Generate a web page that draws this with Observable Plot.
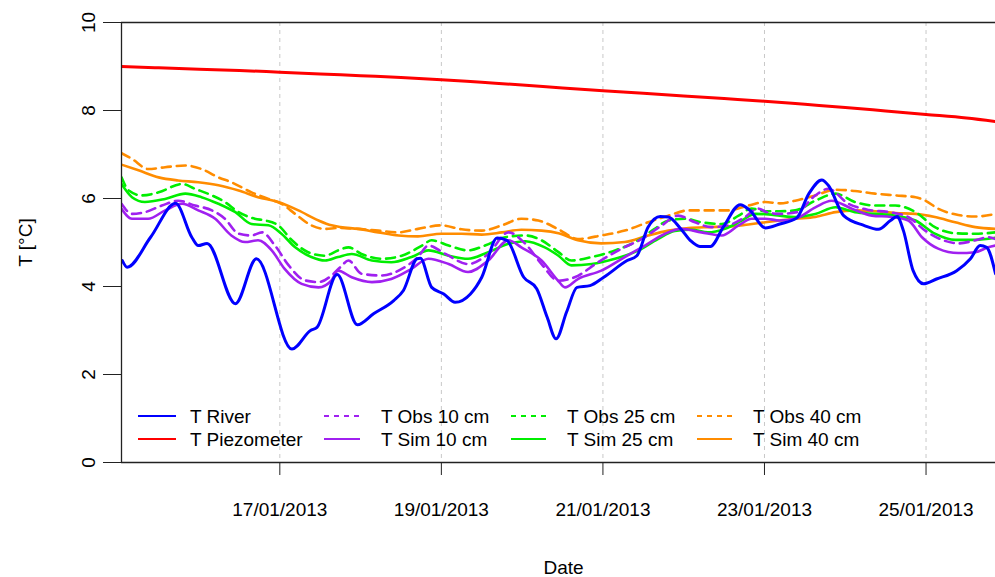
<!DOCTYPE html>
<html><head><meta charset="utf-8">
<script src="https://cdn.jsdelivr.net/npm/d3@7"></script>
<script src="https://cdn.jsdelivr.net/npm/@observablehq/plot@0.6"></script>
<style>body{margin:0;background:#fff;} #chart svg{display:block}</style>
</head><body><div id="chart"></div>
<script>
// x values: day of January 2013 (decimal), y values: temperature (°C)
const tRiver = [[15.05,4.59],[15.11,4.44],[15.40,5.12],[15.71,5.89],[15.91,5.12],[15.99,4.93],[16.10,4.98],[16.45,3.61],[16.71,4.63],[17.15,2.58],[17.38,3.00],[17.46,3.07],[17.71,4.27],[17.96,3.13],[18.16,3.38],[18.41,3.68],[18.53,3.91],[18.70,4.63],[18.74,4.64],[18.88,3.98],[19.03,3.83],[19.17,3.64],[19.36,3.83],[19.50,4.21],[19.69,5.10],[19.81,5.05],[20.02,4.21],[20.18,3.95],[20.31,3.30],[20.42,2.81],[20.55,3.42],[20.68,3.98],[20.84,4.02],[21.01,4.21],[21.30,4.59],[21.42,4.70],[21.56,5.35],[21.71,5.59],[21.81,5.58],[21.96,5.32],[22.08,5.05],[22.20,4.91],[22.33,4.91],[22.49,5.35],[22.70,5.86],[22.82,5.73],[23.01,5.33],[23.19,5.42],[23.40,5.56],[23.55,6.11],[23.71,6.42],[23.79,6.30],[23.98,5.61],[24.23,5.39],[24.41,5.30],[24.56,5.50],[24.64,5.59],[24.72,5.27],[24.84,4.36],[24.97,4.06],[25.13,4.17],[25.38,4.36],[25.55,4.63],[25.67,4.93],[25.75,4.89],[25.86,4.29]];
const tPiezo = [[15.04,9.00],[15.5,8.97],[16.0,8.94],[16.5,8.91],[17.0,8.87],[17.5,8.83],[18.0,8.79],[18.5,8.75],[19.0,8.70],[19.5,8.64],[20.0,8.58],[20.5,8.51],[21.0,8.45],[21.5,8.39],[22.0,8.33],[22.5,8.27],[23.0,8.21],[23.5,8.14],[24.0,8.07],[24.5,7.99],[25.0,7.91],[25.5,7.83],[25.86,7.75]];
const tObs10 = [[15.04,5.88],[15.17,5.65],[15.33,5.69],[15.54,5.84],[15.74,5.95],[15.95,5.84],[16.16,5.73],[16.32,5.54],[16.49,5.20],[16.65,5.16],[16.78,5.23],[16.94,4.93],[17.11,4.48],[17.31,4.14],[17.48,4.10],[17.64,4.25],[17.75,4.44],[17.85,4.59],[18.01,4.29],[18.26,4.25],[18.51,4.40],[18.71,4.67],[18.84,4.93],[19.05,4.74],[19.33,4.51],[19.58,4.74],[19.83,5.23],[20.04,4.97],[20.24,4.51],[20.45,4.13],[20.65,4.21],[20.94,4.55],[21.23,4.86],[21.48,5.08],[21.73,5.39],[21.93,5.61],[22.14,5.46],[22.34,5.35],[22.55,5.39],[22.76,5.58],[22.92,5.77],[23.03,5.69],[23.19,5.65],[23.40,5.69],[23.63,6.07],[23.79,6.22],[24.04,5.88],[24.29,5.74],[24.54,5.69],[24.78,5.58],[24.99,5.27],[25.20,5.06],[25.40,4.98],[25.61,5.05],[25.77,5.12],[25.86,5.08]];
const tSim10 = [[15.04,5.77],[15.17,5.54],[15.37,5.54],[15.58,5.73],[15.79,5.88],[15.99,5.73],[16.20,5.54],[16.40,5.16],[16.57,5.01],[16.73,5.05],[16.90,4.82],[17.06,4.40],[17.27,4.06],[17.48,3.98],[17.64,4.14],[17.72,4.36],[17.89,4.21],[18.14,4.10],[18.38,4.17],[18.63,4.40],[18.84,4.63],[19.09,4.51],[19.33,4.33],[19.58,4.59],[19.83,5.05],[19.99,4.89],[20.24,4.59],[20.45,4.12],[20.53,3.98],[20.69,4.17],[20.98,4.36],[21.27,4.67],[21.52,4.93],[21.77,5.20],[21.97,5.31],[22.22,5.23],[22.47,5.16],[22.68,5.39],[22.84,5.54],[23.01,5.54],[23.19,5.50],[23.38,5.54],[23.63,5.80],[23.83,5.95],[24.08,5.77],[24.33,5.61],[24.57,5.58],[24.78,5.50],[24.95,5.12],[25.15,4.86],[25.40,4.76],[25.61,4.78],[25.77,4.89],[25.86,4.93]];
const tObs25 = [[15.04,6.48],[15.13,6.18],[15.29,6.07],[15.50,6.14],[15.79,6.33],[15.95,6.22],[16.16,6.07],[16.32,5.92],[16.49,5.69],[16.69,5.54],[16.82,5.50],[16.98,5.39],[17.15,5.05],[17.35,4.78],[17.56,4.70],[17.72,4.82],[17.85,4.89],[18.01,4.74],[18.26,4.63],[18.51,4.70],[18.76,4.93],[18.88,5.05],[19.09,4.93],[19.33,4.82],[19.54,4.93],[19.79,5.12],[20.04,5.16],[20.24,5.05],[20.45,4.78],[20.61,4.59],[20.86,4.67],[21.15,4.82],[21.44,5.05],[21.64,5.31],[21.81,5.50],[22.02,5.54],[22.22,5.46],[22.47,5.42],[22.68,5.61],[22.84,5.77],[23.01,5.71],[23.19,5.71],[23.38,5.73],[23.63,5.95],[23.88,6.11],[24.12,5.92],[24.37,5.84],[24.62,5.84],[24.87,5.69],[25.11,5.35],[25.36,5.21],[25.61,5.20],[25.86,5.23]];
const tSim25 = [[15.04,6.33],[15.17,6.03],[15.33,5.92],[15.58,5.99],[15.83,6.11],[16.03,6.03],[16.24,5.88],[16.45,5.69],[16.65,5.42],[16.86,5.39],[17.02,5.20],[17.19,4.89],[17.39,4.67],[17.56,4.59],[17.72,4.67],[17.89,4.74],[18.14,4.59],[18.38,4.55],[18.63,4.67],[18.84,4.82],[19.09,4.70],[19.33,4.63],[19.58,4.78],[19.83,4.97],[20.04,5.03],[20.28,4.89],[20.45,4.70],[20.61,4.48],[20.86,4.51],[21.15,4.63],[21.44,4.82],[21.68,5.08],[21.89,5.26],[22.10,5.29],[22.30,5.23],[22.51,5.31],[22.72,5.50],[22.88,5.65],[23.05,5.64],[23.19,5.61],[23.38,5.58],[23.63,5.65],[23.88,5.80],[24.12,5.69],[24.37,5.65],[24.62,5.61],[24.87,5.50],[25.11,5.20],[25.36,5.06],[25.61,5.06],[25.86,5.11]];
const tObs40 = [[15.04,7.03],[15.17,6.90],[15.37,6.67],[15.58,6.71],[15.83,6.75],[16.03,6.67],[16.24,6.48],[16.40,6.37],[16.65,6.14],[16.86,5.99],[17.02,5.88],[17.19,5.65],[17.39,5.39],[17.56,5.31],[17.72,5.33],[17.97,5.31],[18.22,5.27],[18.47,5.23],[18.71,5.31],[19.00,5.39],[19.25,5.30],[19.50,5.27],[19.75,5.39],[19.99,5.54],[20.20,5.50],[20.45,5.30],[20.69,5.08],[20.98,5.16],[21.27,5.27],[21.56,5.46],[21.81,5.61],[22.06,5.73],[22.30,5.73],[22.55,5.73],[22.80,5.84],[23.01,5.92],[23.19,5.89],[23.38,5.95],[23.63,6.07],[23.88,6.20],[24.12,6.17],[24.37,6.11],[24.62,6.07],[24.87,6.03],[24.99,5.95],[25.15,5.77],[25.36,5.64],[25.61,5.59],[25.86,5.65]];
const tSim40 = [[15.04,6.77],[15.25,6.64],[15.50,6.48],[15.74,6.41],[15.99,6.37],[16.24,6.30],[16.49,6.18],[16.73,6.03],[16.98,5.92],[17.23,5.73],[17.48,5.50],[17.64,5.39],[17.75,5.35],[17.97,5.31],[18.22,5.23],[18.47,5.16],[18.71,5.14],[19.00,5.20],[19.25,5.20],[19.50,5.18],[19.75,5.23],[19.99,5.29],[20.24,5.27],[20.45,5.21],[20.69,5.05],[20.98,4.98],[21.27,5.01],[21.56,5.16],[21.81,5.27],[22.06,5.33],[22.30,5.35],[22.55,5.36],[22.80,5.41],[23.01,5.46],[23.19,5.50],[23.38,5.54],[23.63,5.58],[23.88,5.69],[24.12,5.73],[24.37,5.71],[24.62,5.67],[24.87,5.65],[25.11,5.58],[25.36,5.46],[25.61,5.35],[25.86,5.31]];

const xTickDays = [17, 19, 21, 23, 25];
const yTicks = [0, 2, 4, 6, 8, 10];
const xRangeDays = [15.04, 25.86];
const yRange = [0, 10];

const seriesNames = ["T River","T Piezometer","T Obs 10 cm","T Sim 10 cm","T Obs 25 cm","T Sim 25 cm","T Obs 40 cm","T Sim 40 cm"];
const seriesData = [tRiver, tPiezo, tObs10, tSim10, tObs25, tSim25, tObs40, tSim40];
const seriesColors = ["#0000FF","#FF0000","#A020F0","#A020F0","#00EE00","#00EE00","#FF8C00","#FF8C00"];
const seriesDashed = [false,false,true,false,true,false,true,false];
const seriesWidths = [3,3,2.6,2.6,2.6,2.6,2.6,2.6];

const toDate = d => new Date(Date.UTC(2013, 0, 1) + (d - 1) * 864e5);
const FONT = "'Liberation Sans', Arial, Helvetica, sans-serif";

const lineMarks = [];
const order = [6,7,4,5,2,3,1,0];
for (const i of order) {
  lineMarks.push(Plot.line(seriesData[i].map(([d, v]) => ({date: toDate(d), T: v})), {
    x: "date", y: "T", stroke: seriesColors[i], strokeWidth: seriesWidths[i],
    strokeDasharray: seriesDashed[i] ? "9,6" : null, curve: "monotone-x", clip: true
  }));
}

const chart = Plot.plot({
  width: 995, height: 577,
  marginLeft: 121, marginRight: 0, marginTop: 22, marginBottom: 115,
  style: {fontFamily: FONT, fontSize: "19px", background: "#fff", color: "#000"},
  x: {type: "utc", domain: xRangeDays.map(toDate)},
  y: {domain: yRange},
  marks: [
    Plot.ruleX(xTickDays.map(toDate), {stroke: "#c8c8c8", strokeWidth: 1, strokeDasharray: "4,4"}),
    ...lineMarks,
    Plot.ruleY(yRange, {stroke: "#222", strokeWidth: 1.3}),
    Plot.ruleX([toDate(xRangeDays[0])], {stroke: "#222", strokeWidth: 1.3}),
    Plot.axisX(xTickDays.map(toDate), {tickSize: 13, tickPadding: 27, tickFormat: d3.utcFormat("%d/%m/%Y"), label: null, fontSize: 19, stroke: "#222"}),
    Plot.axisY(yTicks, {tickSize: 18, tickFormat: () => "", label: null, stroke: "#222"}),
    Plot.text(yTicks, {y: d => d, text: d => String(d), frameAnchor: "left", dx: -33, rotate: -90, textAnchor: "middle", lineAnchor: "middle", fontSize: 19}),
    Plot.text(["T [°C]"], {frameAnchor: "left", dx: -96, rotate: -90, textAnchor: "middle", lineAnchor: "middle", fontSize: 19}),
    Plot.text(["Date"], {frameAnchor: "bottom", dx: 5, dy: 105, textAnchor: "middle", lineAnchor: "middle", fontSize: 19})
  ]
});
document.getElementById("chart").appendChild(chart);

// legend (inside plot area, bottom-left)
const legendCols = [[138, 176, 190], [324, 360, 381], [511, 546, 567], [697, 732, 753]];
const legendRows = [416, 439];
const svg = d3.select(chart);
const lg = svg.append("g").attr("font-family", FONT).attr("font-size", 19).attr("text-anchor", "start");
seriesNames.forEach((name, i) => {
  const c = legendCols[Math.floor(i / 2)], y = legendRows[i % 2];
  lg.append("line").attr("x1", c[0]).attr("x2", c[1]).attr("y1", y).attr("y2", y)
    .attr("stroke", seriesColors[i]).attr("stroke-width", 1.8)
    .attr("stroke-dasharray", seriesDashed[i] ? "5,5" : null);
  lg.append("text").attr("x", c[2]).attr("y", y).attr("dy", "0.35em").attr("fill", "#000").attr("text-anchor", "start").text(name);
});
</script>
</body></html>
